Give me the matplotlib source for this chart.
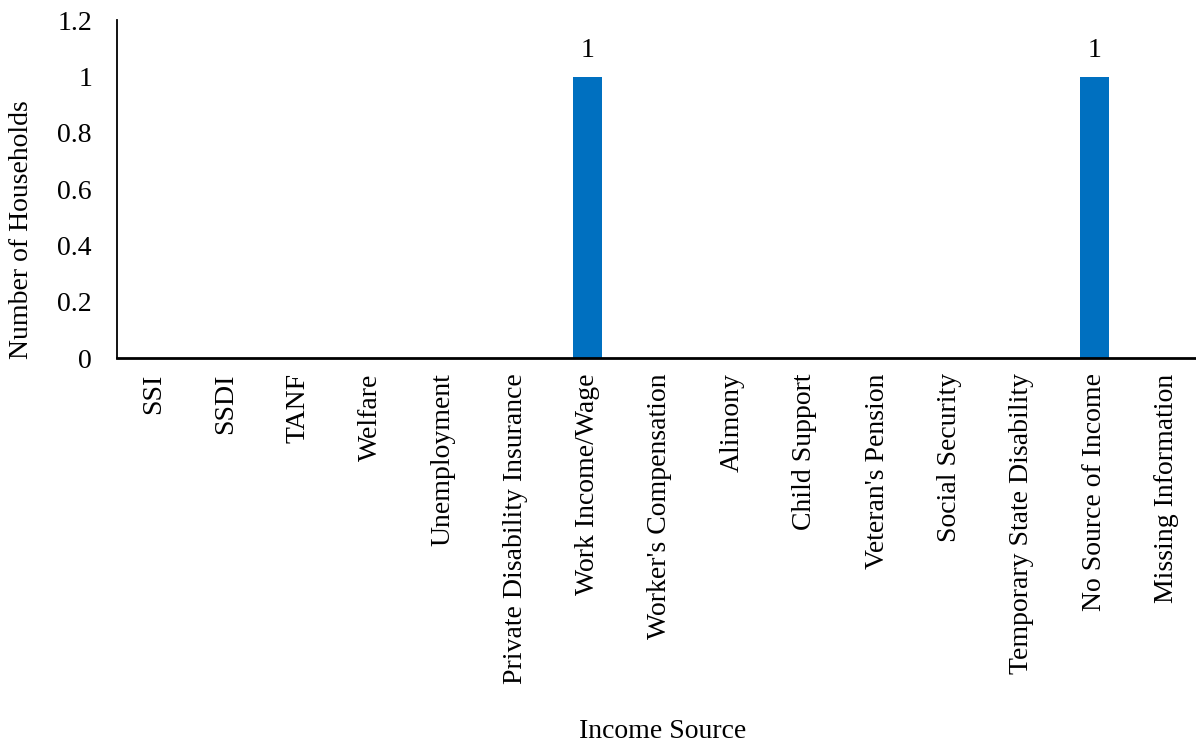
import matplotlib
matplotlib.use("Agg")
import matplotlib.pyplot as plt

categories = ["SSI", "SSDI", "TANF", "Welfare", "Unemployment",
              "Private Disability Insurance", "Work Income/Wage",
              "Worker's Compensation", "Alimony", "Child Support",
              "Veteran's Pension", "Social Security",
              "Temporary State Disability", "No Source of Income",
              "Missing Information"]
values = [0, 0, 0, 0, 0, 0, 1, 0, 0, 0, 0, 0, 0, 1, 0]
yticks = [0, 0.2, 0.4, 0.6, 0.8, 1, 1.2]
ytick_labels = ["0", "0.2", "0.4", "0.6", "0.8", "1", "1.2"]

plt.rcParams['font.family'] = ['Liberation Serif', 'DejaVu Serif']
FS = 20
W, H = 1196, 747
fig = plt.figure(figsize=(W / 100, H / 100), dpi=100)
left, right = 117, 1203
top, bottom = 20.5, 358
ax = fig.add_axes([left / W, 1 - bottom / H, (right - left) / W, (bottom - top) / H])

x = list(range(len(categories)))
bars = ax.bar(x, values, width=0.4, color="#0070C0", zorder=2)
for xi, v in zip(x, values):
    if v > 0:
        ax.text(xi, v + 0.05, f"{v:g}", ha="center", va="bottom", fontsize=FS)

ax.set_xlim(-0.5, len(categories) - 0.5)
ax.set_ylim(0, 1.2)
ax.set_yticks(yticks)
ax.set_yticklabels(ytick_labels, fontsize=FS)
ax.set_xticks(x)
ax.set_xticklabels(categories, rotation=90, fontsize=FS)
ax.tick_params(axis="both", length=0)
ax.tick_params(axis="y", pad=18)
ax.tick_params(axis="x", pad=11)

for s in ["top", "right"]:
    ax.spines[s].set_visible(False)
ax.spines["left"].set_linewidth(1.3)
ax.spines["bottom"].set_linewidth(2)

fig.text(22 / W, 1 - 230 / H, "Number of Households", rotation=90,
         ha="center", va="center", fontsize=FS)
fig.text(663 / W, 1 - 731 / H, "Income Source", ha="center", va="center", fontsize=FS)

fig.savefig("out.png", dpi=100)
